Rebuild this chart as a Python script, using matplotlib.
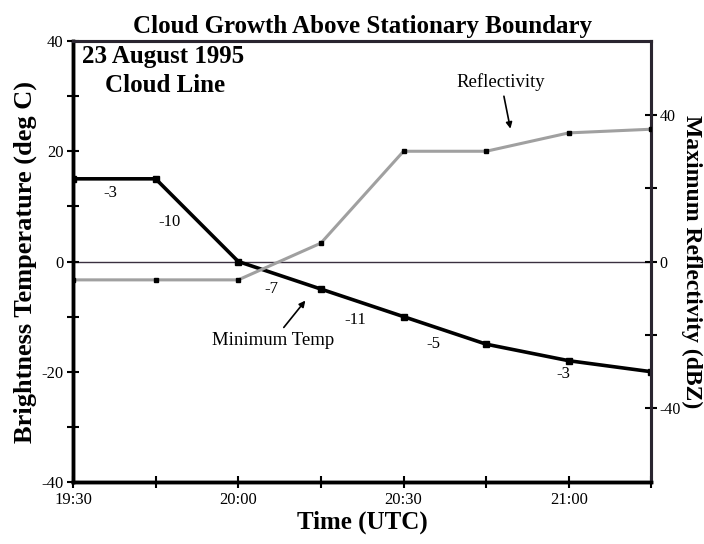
import matplotlib
matplotlib.use("Agg")
import matplotlib.pyplot as plt

plt.rcParams['font.family'] = ['Liberation Serif', 'DejaVu Serif']

# minutes after 19:30 UTC
minutes = [0, 15, 30, 45, 60, 75, 90, 105]
tick_labels = ['19:30', '', '20:00', '', '20:30', '', '21:00', '']

# brightness temperature (deg C) and max reflectivity (dBZ)
min_temp = [15, 15, 0, -5, -10, -15, -18, -20]
max_refl = [-5, -5, -5, 5, 30, 30, 35, 36]

# cooling-rate labels along the temperature curve
rate_text = ['-3', '-10', '-7', '-11', '-5', '-3']
rate_x = [6.7, 17.5, 36, 51.3, 65.4, 89]
rate_y = [12.4, 7.1, -4.9, -10.7, -14.9, -20.4]

fig = plt.figure(figsize=(7.04, 5.44), dpi=100)
ax = fig.add_axes([0.1037, 0.114, 0.8216, 0.8106])
ax2 = ax.twinx()

# temperature curve
ax.plot(minutes, min_temp, color='black', lw=2.6, marker='s', ms=4, zorder=4)
ax.axhline(0, color='#3a3040', lw=1.0, zorder=1)

# reflectivity curve on right axis
ax2.plot(minutes, max_refl, color='#a0a0a0', lw=2.2, marker='s', ms=3.5,
         mfc='black', mec='black', zorder=3)

for t, x, y in zip(rate_text, rate_x, rate_y):
    ax.text(x, y, t, fontsize=12, ha='center', va='center')

ax.set_xlim(0, 105)
ax.set_ylim(-40, 40)
ax2.set_ylim(-60, 60)

ax.set_xticks(minutes)
ax.set_xticklabels(tick_labels, fontsize=12)
ax.set_yticks([-40, -30, -20, -10, 0, 10, 20, 30, 40])
ax.set_yticklabels(['-40', '', '-20', '', '0', '', '20', '', '40'], fontsize=12)
ax2.set_yticks([-40, -20, 0, 20, 40])
ax2.set_yticklabels(['-40', '', '0', '', '40'], fontsize=11.5)

ax.tick_params(direction='inout', length=8, width=1.5, pad=3)
ax2.tick_params(direction='inout', length=8, width=1.5, pad=2)

for a in (ax, ax2):
    for side in ['left', 'bottom']:
        a.spines[side].set_linewidth(2.5)
        a.spines[side].set_color('black')
    for side in ['top', 'right']:
        a.spines[side].set_linewidth(2.2)
        a.spines[side].set_color('#2a2530')

ax.set_title('Cloud Growth Above Stationary Boundary', fontsize=18,
             fontweight='bold', pad=6)
ax.set_xlabel('Time (UTC)', fontsize=18, fontweight='bold', labelpad=2)
ax.set_ylabel('Brightness Temperature (deg C)', fontsize=19,
              fontweight='bold', labelpad=3)
ax2.set_ylabel('Maximum Reflectivity (dBZ)', fontsize=17, fontweight='bold',
               rotation=270, labelpad=15)

ax.text(0.015, 0.99, '23 August 1995', transform=ax.transAxes, fontsize=18,
        fontweight='bold', ha='left', va='top')
ax.text(0.055, 0.925, 'Cloud Line', transform=ax.transAxes, fontsize=18,
        fontweight='bold', ha='left', va='top')

arrow = dict(arrowstyle='-|>', color='black', lw=1.2, mutation_scale=9)
ax.annotate('Reflectivity', xy=(79.5, 23.6), xytext=(77.7, 32.6),
            fontsize=13.5, ha='center', va='center', arrowprops=arrow)
ax.annotate('Minimum Temp', xy=(42.5, -6.7), xytext=(36.3, -14.4),
            fontsize=13.5, ha='center', va='center', arrowprops=arrow)

fig.savefig('out.png', dpi=100)
